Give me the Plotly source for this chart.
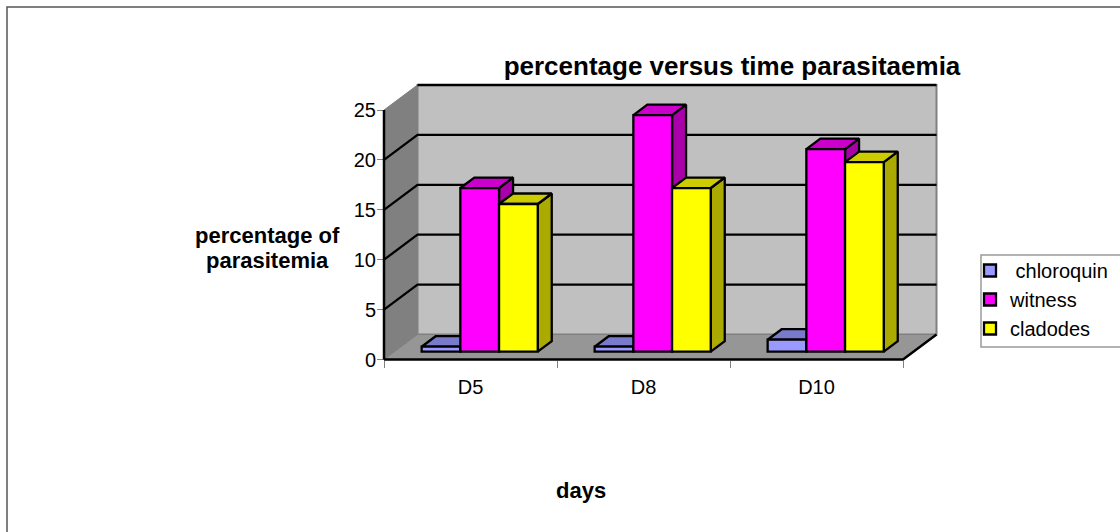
import plotly.graph_objects as go

categories = ["D5", "D8", "D10"]
chloroquin = [0.5, 0.5, 1.2]
witness = [16.4, 23.7, 20.3]
cladodes = [14.8, 16.4, 19.0]
y_ticks = [0, 5, 10, 15, 20, 25]

W, H = 1120, 532
L, R, T, B = 378, 942, 80, 366
AX_X, AX_Y = 384, 359.5      # pixel of the axis origin
PX_X = (903 - 384) / 3       # px per category
PX_Y = (359.5 - 110) / 25    # px per unit
WALL_DX, WALL_DY = 33.5 / PX_X, 25 / PX_Y
BAR_W = 38.7 / PX_X
BAR_SHIFT_X = (479.7 - 384) / PX_X - 0.5
BAR_BASE = (359.5 - 351.7) / PX_Y
FACE_DX, FACE_DY = 14 / PX_X, 10.5 / PX_Y
LINE = "#000000"
EDGE = "#808080"


def px(x):
    return (x - L) / (R - L)


def py(y):
    return (B - y) / (B - T)


fig = go.Figure()


def poly(xs, ys, fill=None, color=LINE, width=2.3, z=0):
    fig.add_trace(go.Scatter(
        x=xs, y=ys, mode="lines", showlegend=False, hoverinfo="skip", cliponaxis=False,
        fill="toself" if fill else None, fillcolor=fill,
        line=dict(color=color, width=width), zorder=z))


xmax = 3 + WALL_DX
ymax = 25 + WALL_DY
# walls and floor
poly([WALL_DX, xmax, xmax, WALL_DX, WALL_DX], [WALL_DY, WALL_DY, ymax, ymax, WALL_DY], "#C0C0C0", EDGE, 2, -10)
poly([0, 0, WALL_DX, WALL_DX, 0], [0, 25, ymax, WALL_DY, 0], "#808080", EDGE, 1, -9)
poly([0, 3, xmax, WALL_DX, 0], [0, 0, WALL_DY, WALL_DY, 0], "#969696", EDGE, 1, -9)
# gridlines
for v in y_ticks[1:-1]:
    poly([0, WALL_DX, xmax], [v, v + WALL_DY, v + WALL_DY], z=-8)
poly([WALL_DX, xmax], [ymax, ymax], z=-8, width=2.5)
poly([0, 0], [0, 25], z=-7, width=2.5)
poly([0, 3, xmax], [0, 0, WALL_DY], z=-7, width=2.5)

series = [
    ("chloroquin", chloroquin, "#9999FF", "#7A7ACC", "#6666AA"),
    ("witness", witness, "#FF00FF", "#CC00CC", "#AA00AA"),
    ("cladodes", cladodes, "#FFFF00", "#CCCC00", "#AAAA00"),
]
centers = [i + 0.5 + BAR_SHIFT_X for i in range(len(categories))]
for k, (name, vals, front, top, side) in enumerate(series):
    xs = [c + (k - 1) * BAR_W for c in centers]
    for xc, v in zip(xs, vals):
        x0, x1 = xc - BAR_W / 2, xc + BAR_W / 2
        y1 = BAR_BASE + v
        poly([x1, x1 + FACE_DX, x1 + FACE_DX, x1, x1],
             [BAR_BASE, BAR_BASE + FACE_DY, y1 + FACE_DY, y1, BAR_BASE], side, z=2 * k)
        poly([x0, x1, x1 + FACE_DX, x0 + FACE_DX, x0],
             [y1, y1, y1 + FACE_DY, y1 + FACE_DY, y1], top, z=2 * k)
    fig.add_trace(go.Bar(
        name=("\u00a0" + name) if k == 0 else name, x=xs, y=vals, base=BAR_BASE, width=BAR_W, legendgroup=name,
        marker=dict(color=front, line=dict(color=LINE, width=2.3)),
        zorder=2 * k + 1, cliponaxis=False))

shapes = [
    dict(type="rect", xref="paper", yref="paper", x0=px(7), x1=px(1140), y0=py(7), y1=py(560),
         line=dict(color="#555555", width=1.5), layer="below"),
    dict(type="rect", xref="paper", yref="paper", x0=px(981), x1=px(1140), y0=py(255), y1=py(347),
         line=dict(color="#9A9A9A", width=1.5), layer="below"),
]

FONT = "Liberation Sans"
annotations = [
    dict(text="<b>percentage of</b>", xref="paper", yref="paper", x=px(267), y=py(235),
         xanchor="center", yanchor="middle",
         showarrow=False, font=dict(family=FONT, size=22, color="#000")),
    dict(text="<b>parasitemia</b>", xref="paper", yref="paper", x=px(267), y=py(260),
         xanchor="center", yanchor="middle",
         showarrow=False, font=dict(family=FONT, size=22, color="#000")),
    dict(text="<b>days</b>", xref="paper", yref="paper", x=px(581), y=py(490),
         xanchor="center", yanchor="middle",
         showarrow=False, font=dict(family=FONT, size=22, color="#000")),
]

fig.update_layout(
    width=W, height=H, autosize=False, barmode="overlay",
    margin=dict(l=L, r=W - R, t=T, b=H - B, autoexpand=False),
    paper_bgcolor="white", plot_bgcolor="rgba(0,0,0,0)",
    font=dict(family=FONT, size=20, color="#000"),
    title=dict(text="<b>percentage versus time parasitaemia</b>", x=732 / W, xanchor="center",
               y=1 - 66 / H, yanchor="middle", font=dict(family=FONT, size=26, color="#000")),
    xaxis=dict(range=[(L - AX_X) / PX_X, (R - AX_X) / PX_X], tickmode="array",
               tickvals=[i + 0.5 for i in range(3)], ticktext=categories,
               anchor="free", position=py(360), ticklabelstandoff=9,
               ticks="outside", ticklen=0, showgrid=False, zeroline=False, showline=False,
               minor=dict(tick0=0, dtick=1, ticks="outside", ticklen=7, tickcolor="#808080", tickwidth=1)),
    yaxis=dict(range=[(AX_Y - B) / PX_Y, (AX_Y - T) / PX_Y], tickmode="array", tickvals=y_ticks,
               anchor="free", position=px(384), ticklabelstandoff=-3,
               ticks="outside", ticklen=7,
               tickcolor="#808080", tickwidth=1, showgrid=False, zeroline=False, showline=False),
    legend=dict(x=px(978), y=py(251), xanchor="left", yanchor="top", bgcolor="rgba(0,0,0,0)",
                tracegroupgap=12, traceorder="normal", indentation=-8,
                font=dict(family=FONT, size=20, color="#000")),
    shapes=shapes, annotations=annotations,
)
fig.write_html("out.html", post_script="document.body.style.margin='0';",
               config={"displayModeBar": False})
